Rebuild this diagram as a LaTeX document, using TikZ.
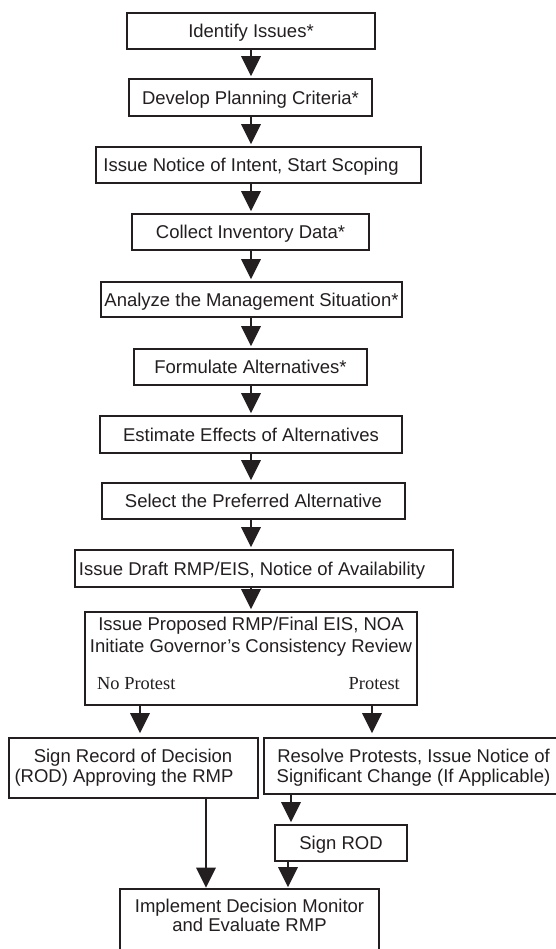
\documentclass[tikz,border=0pt]{standalone}
\usepackage{fontspec}
\setmainfont{Liberation Serif}
\newfontfamily\arialf{Liberation Sans}
\usetikzlibrary{arrows.meta}
\definecolor{ink}{HTML}{231F20}
\begin{document}
\begin{tikzpicture}[x=1pt,y=-1pt,
  box/.style={draw=ink, line width=1.6pt, inner sep=0pt, text=ink,
    font=\arialf\fontsize{18.5}{20}\selectfont, text height=13.3pt, text depth=0pt},
  lbl/.style={font=\arialf\fontsize{18.5}{20}\selectfont, text=ink, inner sep=0pt, anchor=base},
  ser/.style={font=\fontsize{18.4}{20}\selectfont, text=ink, inner sep=0pt, anchor=base},
  arr/.style={draw=ink, line width=1.3pt, -{Triangle[width=19.5pt,length=20pt]}, shorten >=2pt}]
\useasboundingbox[fill=white] (0,0) rectangle (556,949);

% column coordinates for connectors
\coordinate (col) at (251,0);
\coordinate (lx) at (140,0);
\coordinate (rx) at (372,0);
\coordinate (ax) at (206,0);
\coordinate (px) at (291,0);
\coordinate (qx) at (288,0);

% main column
\node[box, minimum width=248pt, minimum height=36pt] (b1) at (251,31) {Identify Issues*};
\node[box, minimum width=243pt, minimum height=37pt] (b2) at (250.5,97.5) {Develop Planning Criteria*};
\node[box, minimum width=325pt, minimum height=36pt] (b3) at (258.5,165) {Issue Notice of Intent, Start Scoping\hspace*{15pt}};
\node[box, minimum width=237pt, minimum height=36pt] (b4) at (250.5,232) {Collect Inventory Data*};
\node[box, minimum width=301pt, minimum height=35pt] (b5) at (251.5,299.5) {Analyze the Management Situation*};
\node[box, minimum width=233pt, minimum height=36pt] (b6) at (250.5,367) {Formulate Alternatives*};
\node[box, minimum width=302pt, minimum height=37pt] (b7) at (251,434.5) {Estimate Effects of Alternatives};
\node[box, minimum width=303pt, minimum height=36pt] (b8) at (253.5,501) {Select the Preferred Alternative};
\node[box, minimum width=378pt, minimum height=37pt] (b9) at (264,568.5) {Issue Draft RMP/EIS, Notice of Availability\hspace*{24pt}};

% proposed RMP box
\node[box, minimum width=332pt, minimum height=93pt] (b10) at (251,658.5) {};
\node[lbl] (t10a) at (251,630) {Issue Proposed RMP/Final EIS, NOA};
\node[lbl] (t10b) at (251,652) {Initiate Governor’s Consistency Review};
\node[ser, anchor=base west] (np) at (97,689) {No Protest};
\node[ser, anchor=base east] (pr) at (400,689) {Protest};

% branches
\node[box, minimum width=249pt, minimum height=60pt] (b11) at (133.5,768) {};
\node[lbl] (t11a) at (133,762.5) {Sign Record of Decision};
\node[lbl] (t11b) at (124,782) {(ROD) Approving the RMP};

\node[box, minimum width=298pt, minimum height=56pt] (b12) at (413,766) {};
\node[lbl] (t12a) at (413.5,762.5) {Resolve Protests, Issue Notice of};
\node[lbl] (t12b) at (413.5,782.5) {Significant Change (If Applicable)};

\node[box, minimum width=132pt, minimum height=36pt] (b13) at (341,843) {Sign ROD};

\node[box, minimum width=259pt, minimum height=76pt] (b14) at (249.5,927) {};
\node[lbl] (t14a) at (249.5,912.5) {Implement Decision Monitor};
\node[lbl] (t14b) at (249.5,931.5) {and Evaluate RMP};

% connectors
\draw[arr] (b1.south -| col) -- (b2.north -| col);
\draw[arr] (b2.south -| col) -- (b3.north -| col);
\draw[arr] (b3.south -| col) -- (b4.north -| col);
\draw[arr] (b4.south -| col) -- (b5.north -| col);
\draw[arr] (b5.south -| col) -- (b6.north -| col);
\draw[arr] (b6.south -| col) -- (b7.north -| col);
\draw[arr] (b7.south -| col) -- (b8.north -| col);
\draw[arr] (b8.south -| col) -- (b9.north -| col);
\draw[arr] (b9.south -| col) -- (b10.north -| col);
\draw[arr, shorten >=4pt] (b10.south -| lx) -- (b11.north -| lx);
\draw[arr, shorten >=4pt] (b10.south -| rx) -- (b12.north -| rx);
\draw[arr, shorten >=0.5pt] (b11.south -| ax) -- (b14.north -| ax);
\draw[arr] (b12.south -| px) -- (b13.north -| px);
\draw[arr, shorten >=1pt] (b13.south -| qx) -- (b14.north -| qx);
\end{tikzpicture}
\end{document}
